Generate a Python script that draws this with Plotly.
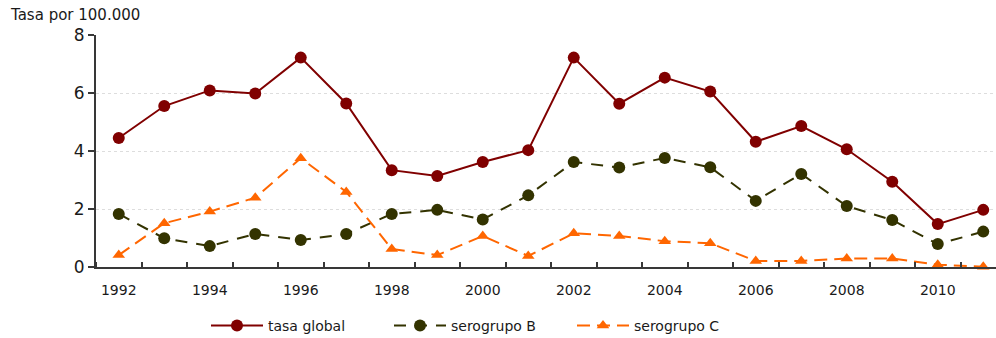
import plotly.graph_objects as go

# Incidence of meningococcal disease per 100,000 inhabitants
years = list(range(1992, 2012))
tasa_global = [4.45, 5.55, 6.09, 5.98, 7.22, 5.64, 3.34, 3.14, 3.62, 4.03,
               7.22, 5.63, 6.53, 6.05, 4.32, 4.86, 4.06, 2.94, 1.48, 1.97]
serogrupo_b = [1.83, 0.99, 0.72, 1.14, 0.93, 1.14, 1.83, 1.97, 1.64, 2.47,
               3.62, 3.43, 3.76, 3.44, 2.28, 3.21, 2.10, 1.62, 0.79, 1.22]
serogrupo_c = [0.41, 1.51, 1.91, 2.39, 3.75, 2.59, 0.62, 0.41, 1.07, 0.38,
               1.16, 1.07, 0.89, 0.82, 0.21, 0.21, 0.29, 0.29, 0.08, 0.01]
y_ticks = [0, 2, 4, 6, 8]
x_labels = list(range(1992, 2011, 2))

FONT = "DejaVu Sans"
PLOT_W, PLOT_H = 900, 232

fig = go.Figure()
fig.add_trace(go.Scatter(
    x=years, y=tasa_global, name="tasa global", mode="lines+markers",
    line=dict(color="#800000", width=2),
    marker=dict(symbol="circle", size=12, color="#800000"),
    cliponaxis=False,
))
fig.add_trace(go.Scatter(
    x=years, y=serogrupo_b, name="serogrupo B", mode="lines+markers",
    line=dict(color="#333300", width=2, dash="12px,9px"),
    marker=dict(symbol="circle", size=12, color="#333300"),
    cliponaxis=False,
))
fig.add_trace(go.Scatter(
    x=years, y=serogrupo_c, name="serogrupo C", mode="lines+markers",
    line=dict(color="#ff6600", width=2, dash="13px,7px"),
    marker=dict(symbol="triangle-up", size=11, color="#ff6600"),
    cliponaxis=False,
))

fig.update_layout(
    width=996, height=338,
    margin=dict(l=96, r=0, t=35, b=71),
    paper_bgcolor="white", plot_bgcolor="white",
    font=dict(family=FONT, color="#1a1a1a"),
    showlegend=True,
    legend=dict(
        orientation="h", xref="container", yref="container",
        x=206 / 996, y=12 / 338, xanchor="left", yanchor="middle",
        font=dict(family=FONT, size=14, color="#1a1a1a"),
        entrywidth=116, entrywidthmode="pixels", itemwidth=52,
        bgcolor="rgba(0,0,0,0)",
    ),
    annotations=[dict(
        text="Tasa por 100.000", xref="paper", yref="paper",
        x=(8 - 96) / PLOT_W, y=1 + (35 - 15) / PLOT_H,
        xanchor="left", yanchor="middle",
        showarrow=False, font=dict(family=FONT, size=15, color="#1a1a1a"),
    )],
)

fig.update_xaxes(
    range=[1991.5, 1991.5 + PLOT_W / 45.5],
    tickmode="array", tickvals=x_labels, ticktext=[str(v) for v in x_labels],
    ticks="", showgrid=False, zeroline=False,
    showline=True, linecolor="#383838", linewidth=2,
    ticklabelstandoff=9,
    tickfont=dict(family=FONT, size=14, color="#1a1a1a"),
    minor=dict(tickmode="array", tickvals=[y + 0.5 for y in range(1991, 2012)],
               ticks="inside", ticklen=5, tickcolor="#383838", tickwidth=1.5,
               showgrid=False),
)
fig.update_yaxes(
    range=[0, 8], tickmode="array", tickvals=y_ticks,
    ticks="outside", ticklen=6, tickcolor="#383838", tickwidth=1.5,
    showline=True, linecolor="#383838", linewidth=2,
    showgrid=True, gridcolor="#dddddd", gridwidth=1, griddash="dot",
    zeroline=False,
    tickfont=dict(family=FONT, size=17, color="#1a1a1a"),
)

fig.write_html("out.html")
